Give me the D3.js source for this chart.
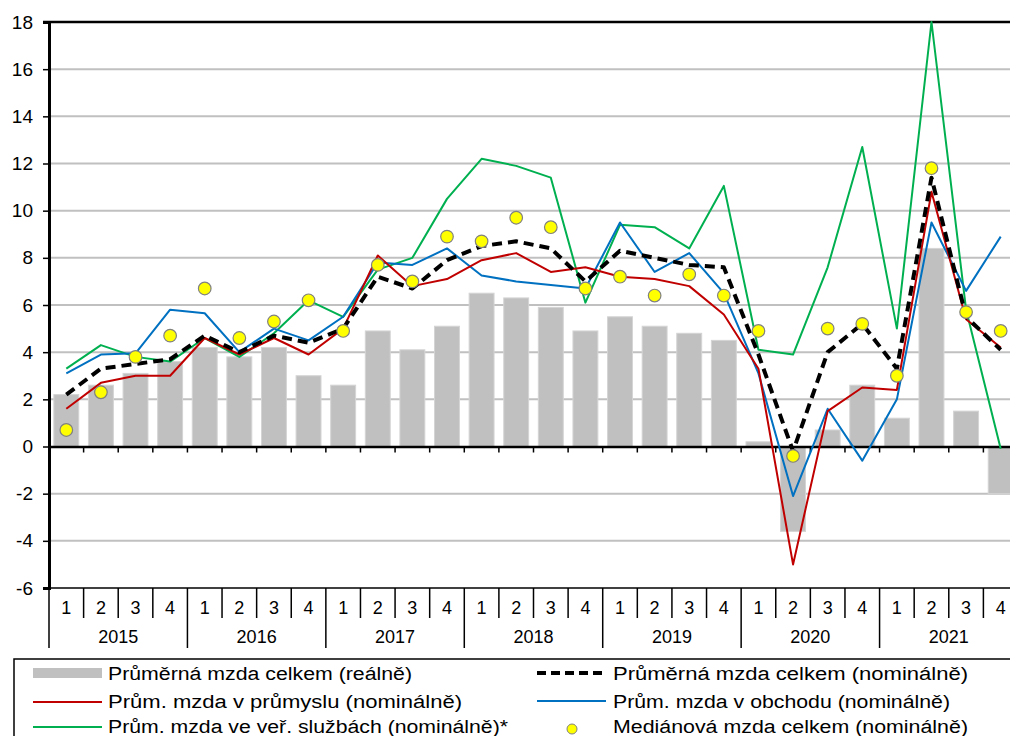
<!DOCTYPE html>
<html>
<head>
<meta charset="utf-8">
<script src="https://cdn.jsdelivr.net/npm/d3@7"></script>
<style>
  body { margin: 0; background: #fff; }
  svg { display: block; font-family: "Liberation Sans", Arial, sans-serif; }
</style>
</head>
<body>
<div id="chart"></div>
<script>
// quarters 2015Q1 .. 2021Q4
var years = ["2015", "2016", "2017", "2018", "2019", "2020", "2021"];
var quarters = ["1", "2", "3", "4"];

var realTotal   = [2.2, 2.6, 3.1, 3.6, 4.2, 3.8, 4.2, 3.0, 2.6, 4.9, 4.1, 5.1, 6.5, 6.3, 5.9, 4.9, 5.5, 5.1, 4.8, 4.5, 0.2, -3.6, 0.7, 2.6, 1.2, 8.4, 1.5, -2.0];
var nomTotal    = [2.2, 3.3, 3.5, 3.7, 4.7, 4.0, 4.7, 4.4, 5.0, 7.2, 6.7, 7.9, 8.5, 8.7, 8.4, 7.0, 8.3, 8.0, 7.7, 7.6, 3.9, -0.2, 4.0, 5.2, 3.3, 11.4, 5.5, 4.1];
var industry    = [1.6, 2.7, 3.0, 3.0, 4.6, 3.9, 4.6, 3.9, 5.0, 8.1, 6.8, 7.1, 7.9, 8.2, 7.4, 7.6, 7.2, 7.1, 6.8, 5.6, 3.3, -5.0, 1.5, 2.5, 2.4, 10.8, 5.4, 4.2];
var trade       = [3.1, 3.9, 3.95, 5.8, 5.65, 4.0, 5.0, 4.5, 5.5, 7.8, 7.7, 8.4, 7.25, 7.0, 6.85, 6.7, 9.5, 7.4, 8.2, 6.5, 3.1, -2.1, 1.6, -0.6, 2.0, 9.5, 6.6, 8.9];
var publicServ  = [3.3, 4.3, 3.8, 3.6, 4.6, 3.8, 4.8, 6.2, 5.5, 7.5, 8.0, 10.5, 12.2, 11.9, 11.4, 6.1, 9.4, 9.3, 8.4, 11.05, 4.1, 3.9, 7.6, 12.7, 5.0, 18.0, 5.8, -0.1];
var median      = [0.7, 2.3, 3.8, 4.7, 6.7, 4.6, 5.3, 6.2, 4.9, 7.7, 7.0, 8.9, 8.7, 9.7, 9.3, 6.7, 7.2, 6.4, 7.3, 6.4, 4.9, -0.4, 5.0, 5.2, 3.0, 11.8, 5.7, 4.9];
var yTicks = [-6, -4, -2, 0, 2, 4, 6, 8, 10, 12, 14, 16, 18];

var labels = {
  real: "Průměrná mzda celkem (reálně)",
  nom: "Průměrná mzda celkem (nominálně)",
  ind: "Prům. mzda v průmyslu (nominálně)",
  trade: "Prům. mzda v obchodu (nominálně)",
  pub: "Prům. mzda ve veř. službách (nominálně)*",
  med: "Mediánová mzda celkem (nominálně)"
};

var keys = [];
years.forEach(function(y) { quarters.forEach(function(q) { keys.push(y + "-" + q); }); });

var W = 1010, H = 736;
var svg = d3.select("#chart").append("svg")
  .attr("width", W)
  .attr("height", H);

var x = d3.scaleBand().domain(keys).range([49, 1018]).paddingInner(0.28).paddingOuter(0.14);
var xs = d3.scaleBand().domain(keys).range([49, 1018]);   // slots for lines / separators
var y = d3.scaleLinear().domain([-6, 18]).range([588, 22]);
var cx = function(i) { return xs(keys[i]) + xs.bandwidth() / 2; };

// gridlines
svg.append("g").selectAll("line")
  .data(yTicks.filter(function(t) { return t !== 0 && t !== -6 && t !== 18; }))
  .join("line")
    .attr("x1", 49).attr("x2", W)
    .attr("y1", function(d) { return y(d); }).attr("y2", function(d) { return y(d); })
    .attr("stroke", "#c0c0c0").attr("stroke-width", 2);

// bars (real)
svg.append("g").selectAll("rect")
  .data(realTotal)
  .join("rect")
    .attr("x", function(d, i) { return x(keys[i]); })
    .attr("width", x.bandwidth())
    .attr("y", function(d) { return y(Math.max(0, d)); })
    .attr("height", function(d) { return Math.abs(y(d) - y(0)); })
    .attr("fill", "#c0c0c0")
    .attr("stroke", "#d4d4d4").attr("stroke-width", 1);

// y axis
var yAxis = svg.append("g")
  .attr("transform", "translate(49,0)")
  .call(d3.axisLeft(y).tickValues(yTicks).tickSize(6).tickPadding(10).tickFormat(d3.format("d")));
yAxis.select(".domain").attr("stroke", "#000").attr("stroke-width", 3);
yAxis.selectAll(".tick line").attr("stroke", "#000").attr("stroke-width", 1.5);
yAxis.selectAll(".tick text").attr("font-size", 19).attr("fill", "#000")
  .attr("font-family", "Liberation Sans, Arial, sans-serif")
  .text(function(d) { return d < 0 ? "-" + Math.abs(d) : d; });

// top frame
svg.append("line").attr("x1", 43).attr("x2", W).attr("y1", y(18)).attr("y2", y(18))
  .attr("stroke", "#000").attr("stroke-width", 2.5);

// zero line with category ticks
var zeroAxis = svg.append("g")
  .attr("transform", "translate(0," + y(0) + ")")
  .call(d3.axisBottom(xs).tickSize(0).tickFormat(""));
zeroAxis.select(".domain").attr("stroke", "#000").attr("stroke-width", 2.5);
svg.append("g").selectAll("line")
  .data(keys.slice(1))
  .join("line")
    .attr("x1", function(d) { return xs(d); }).attr("x2", function(d) { return xs(d); })
    .attr("y1", y(0)).attr("y2", y(0) + 6)
    .attr("stroke", "#000").attr("stroke-width", 1.5);

// bottom category table
svg.append("line").attr("x1", 43).attr("x2", W).attr("y1", y(-6)).attr("y2", y(-6))
  .attr("stroke", "#000").attr("stroke-width", 1.5);
svg.append("g").selectAll("line")
  .data(keys.concat(["end"]))
  .join("line")
    .attr("x1", function(d, i) { return 49 + i * xs.bandwidth(); })
    .attr("x2", function(d, i) { return 49 + i * xs.bandwidth(); })
    .attr("y1", y(-6))
    .attr("y2", function(d, i) { return i % 4 === 0 ? 648 : 618; })
    .attr("stroke", "#000").attr("stroke-width", 1.5);
svg.append("g").selectAll("text")
  .data(keys)
  .join("text")
    .attr("x", function(d, i) { return cx(i); })
    .attr("y", 614)
    .attr("text-anchor", "middle").attr("font-size", 18)
    .text(function(d) { return d.split("-")[1]; });
svg.append("g").selectAll("text")
  .data(years)
  .join("text")
    .attr("x", function(d, i) { return (cx(i * 4) + cx(i * 4 + 3)) / 2; })
    .attr("y", 643)
    .attr("text-anchor", "middle").attr("font-size", 18)
    .text(function(d) { return d; });

// lines
var line = d3.line().x(function(d, i) { return cx(i); }).y(function(d) { return y(d); });
function drawLine(data, color, width, dash) {
  svg.append("path").datum(data)
    .attr("fill", "none").attr("stroke", color).attr("stroke-width", width)
    .attr("stroke-dasharray", dash || null)
    .attr("stroke-linejoin", "round")
    .attr("d", line);
}
drawLine(publicServ, "#00b050", 2);
drawLine(trade, "#0070c0", 2);
drawLine(industry, "#c00000", 2);
drawLine(nomTotal, "#000", 4, "10,6");

// median points
svg.append("g").selectAll("circle")
  .data(median)
  .join("circle")
    .attr("cx", function(d, i) { return cx(i); })
    .attr("cy", function(d) { return y(d); })
    .attr("r", 6.3)
    .attr("fill", "#ffff00").attr("stroke", "#808080").attr("stroke-width", 1.2);

// legend
var lg = svg.append("g");
lg.append("rect").attr("x", 14).attr("y", 659).attr("width", W).attr("height", 100)
  .attr("fill", "#fff").attr("stroke", "#000").attr("stroke-width", 1.5);

function legendText(tx, ty, t, len) {
  lg.append("text").attr("x", tx).attr("y", ty).attr("font-size", 18).attr("fill", "#000")
    .attr("textLength", len).attr("lengthAdjust", "spacingAndGlyphs")
    .text(t);
}
// row 1
lg.append("rect").attr("x", 33).attr("y", 668).attr("width", 69).attr("height", 10).attr("fill", "#c0c0c0");
legendText(108, 680, labels.real, 304);
lg.append("line").attr("x1", 537).attr("x2", 606).attr("y1", 673).attr("y2", 673)
  .attr("stroke", "#000").attr("stroke-width", 4).attr("stroke-dasharray", "9,5");
legendText(613, 680, labels.nom, 355);
// row 2
lg.append("line").attr("x1", 33).attr("x2", 102).attr("y1", 702).attr("y2", 702)
  .attr("stroke", "#c00000").attr("stroke-width", 2);
legendText(108, 708, labels.ind, 354);
lg.append("line").attr("x1", 537).attr("x2", 606).attr("y1", 701).attr("y2", 701)
  .attr("stroke", "#0070c0").attr("stroke-width", 2);
legendText(613, 708, labels.trade, 337);
// row 3
lg.append("line").attr("x1", 33).attr("x2", 102).attr("y1", 727).attr("y2", 727)
  .attr("stroke", "#00b050").attr("stroke-width", 2);
legendText(108, 733, labels.pub, 400);
lg.append("circle").attr("cx", 572).attr("cy", 729).attr("r", 5)
  .attr("fill", "#ffff00").attr("stroke", "#808080").attr("stroke-width", 1);
legendText(613, 733, labels.med, 355);
</script>
</body>
</html>
